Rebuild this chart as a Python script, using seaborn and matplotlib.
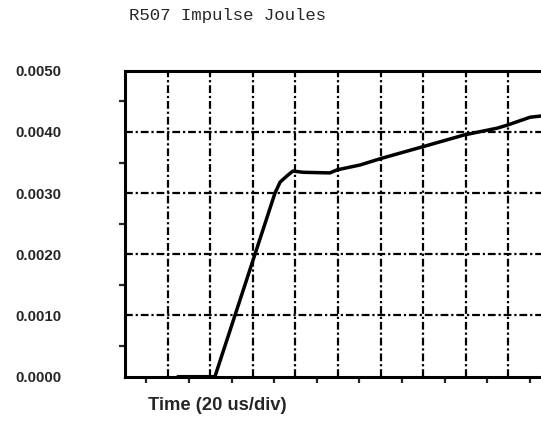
import numpy as np
import pandas as pd
import seaborn as sns
import matplotlib.pyplot as plt
from matplotlib.ticker import MultipleLocator, FormatStrFormatter

# values (x in divisions of 20 us, y in joules)
time_div = [1.24, 2.07, 2.11, 2.58, 3.05, 3.52, 3.64, 3.80, 3.94, 4.18, 4.81, 4.98,
            5.52, 6.03, 6.95, 7.96, 8.73, 8.97, 9.51, 9.77, 10.0]
energy_j = [0.0, 0.0, 0.0, 0.0010, 0.0020, 0.0030, 0.00318, 0.00328, 0.00336, 0.00334,
            0.00333, 0.00338, 0.00346, 0.00357, 0.00375, 0.00395, 0.00406, 0.00411,
            0.00424, 0.00426, 0.00428]
y_ticks = [0.0, 0.001, 0.002, 0.003, 0.004, 0.005]

sns.set_style("white")
plt.rcParams['font.family'] = ['Liberation Sans', 'DejaVu Sans']

df = pd.DataFrame({"t": time_div, "e": energy_j})

fig = plt.figure(figsize=(5.41, 4.37), dpi=100)
# the original scan cuts off the right side of the plot box
ax = fig.add_axes([0.2311, 0.138, 0.7874, 0.7002])

ax.set_xlim(0, 10)
ax.set_ylim(0, 0.005)

gstyle = dict(color="black", lw=1.6, ls=(0, (3.5, 1.3, 1, 1.3)), zorder=1)
for xv in range(1, 10):
    ax.axvline(xv, **gstyle)
for yv in y_ticks[1:-1]:
    ax.axhline(yv, **gstyle)

sns.lineplot(data=df, x="t", y="e", color="black", lw=2.5, ax=ax, zorder=3)

for s in ["top", "left", "bottom"]:
    ax.spines[s].set_linewidth(2.2)
    ax.spines[s].set_color("black")
ax.spines["right"].set_visible(False)

ax.set_yticks(y_ticks)
ax.yaxis.set_major_formatter(FormatStrFormatter("%.4f"))
ax.yaxis.set_minor_locator(MultipleLocator(0.0005))
ax.xaxis.set_major_locator(MultipleLocator(1))
ax.xaxis.set_minor_locator(MultipleLocator(0.5))
ax.set_xticklabels([])
ax.tick_params(axis="y", which="major", length=0, pad=46, labelsize=10.8)
ax.tick_params(axis="y", which="minor", direction="out", length=4, width=1.6, left=True)
ax.tick_params(axis="x", which="major", direction="out", length=1.5, width=1.6, bottom=True)
ax.tick_params(axis="x", which="minor", direction="out", length=4.5, width=1.6, bottom=True)
for lab in ax.get_yticklabels():
    lab.set_fontweight("bold")
    lab.set_va("center_baseline")
ax.set_xlabel("")
ax.set_ylabel("")

fig.text(0.238, 0.965, "R507 Impulse Joules", family=["Liberation Mono", "DejaVu Sans Mono"],
         fontsize=12.5, ha="left", va="center")
fig.text(0.273, 0.073, "Time (20 us/div)", fontsize=13.2, fontweight="bold", ha="left", va="center")

fig.savefig("out.png", dpi=100)
